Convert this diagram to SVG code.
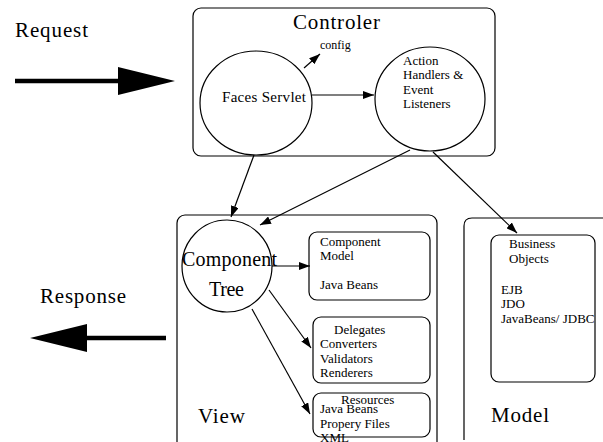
<svg xmlns="http://www.w3.org/2000/svg" width="603" height="442" viewBox="0 0 603 442" font-family="'Liberation Serif', 'DejaVu Serif', serif">
<style>
text{fill:#000}
.big{font-size:21px}
.mid{font-size:15px}
.sm{font-size:13px}
.xs{font-size:12px}
.box{fill:none;stroke:#000;stroke-width:1.2}
.ln{fill:none;stroke:#000;stroke-width:1.2}
</style>
<defs>
<marker id="ah" markerUnits="userSpaceOnUse" markerWidth="12" markerHeight="8" refX="11" refY="4" orient="auto">
<path d="M0,0 L11,4 L0,8 Z" fill="#000"/>
</marker>
</defs>
<rect width="603" height="442" fill="#fff"/>

<g id="request">
<text class="big" x="15" y="37" textLength="73">Request</text>
<line x1="15" y1="81" x2="120" y2="81" stroke="#000" stroke-width="4.5"/>
<polygon points="118,67 175,81 118,95" fill="#000"/>
</g>

<g id="response">
<text class="big" x="40" y="303" textLength="86">Response</text>
<line x1="166" y1="338" x2="85" y2="338" stroke="#000" stroke-width="4.5"/>
<polygon points="87,324 30,338 87,352" fill="#000"/>
</g>

<g id="controler">
<rect class="box" x="193" y="8" width="302" height="148" rx="8"/>
<text class="big" x="293" y="29" textLength="87">Controler</text>
</g>

<g id="faces-servlet">
<ellipse class="box" cx="256" cy="103" rx="56" ry="52"/>
<text class="mid" x="222" y="102" textLength="84">Faces Servlet</text>
</g>

<g id="config">
<text class="xs" x="320" y="49">config</text>
</g>

<g id="action-handlers">
<ellipse class="box" cx="430" cy="99" rx="55" ry="52"/>
<text class="sm" x="403" y="65">Action</text>
<text class="sm" x="403" y="79">Handlers &amp;</text>
<text class="sm" x="403" y="94">Event</text>
<text class="sm" x="403" y="108">Listeners</text>
</g>

<g id="view">
<rect class="box" x="177" y="215" width="260" height="240" rx="8"/>
<text class="big" x="198" y="423" textLength="47">View</text>
</g>

<g id="component-tree">
<ellipse class="box" cx="227" cy="266" rx="45" ry="46"/>
<text x="182" y="266" font-size="20" textLength="95">Component</text>
<text x="209" y="296" font-size="20" textLength="35">Tree</text>
</g>

<g id="component-model">
<rect class="box" x="309" y="232" width="121" height="68" rx="8"/>
<text class="sm" x="320" y="246">Component</text>
<text class="sm" x="320" y="260">Model</text>
<text class="sm" x="320" y="289">Java Beans</text>
</g>

<g id="delegates">
<rect class="box" x="313" y="317" width="117" height="66" rx="8"/>
<text class="sm" x="334" y="334">Delegates</text>
<text class="sm" x="320" y="348">Converters</text>
<text class="sm" x="320" y="363">Validators</text>
<text class="sm" x="320" y="377">Renderers</text>
</g>

<g id="resources">
<rect class="box" x="313" y="393" width="117" height="44" rx="8"/>
<text class="sm" x="341" y="404">Resources</text>
<text class="sm" x="320" y="413">Java Beans</text>
<text class="sm" x="320" y="428">Propery Files</text>
<text class="sm" x="320" y="442">XML</text>
</g>

<g id="model">
<path class="box" d="M620,218 L472,218 Q464,218 464,226 L464,440"/>
<text class="big" x="491" y="422" textLength="58">Model</text>
</g>

<g id="business-objects">
<rect class="box" x="491" y="235" width="104" height="147" rx="8"/>
<text class="sm" x="509" y="248">Business</text>
<text class="sm" x="509" y="263">Objects</text>
<text class="sm" x="501" y="294">EJB</text>
<text class="sm" x="501" y="308">JDO</text>
<text class="sm" x="501" y="323">JavaBeans/ JDBC</text>
</g>

<g id="connectors">
<line class="ln" x1="304" y1="68" x2="320" y2="54" marker-end="url(#ah)"/>
<line class="ln" x1="312" y1="95" x2="374" y2="95" marker-end="url(#ah)"/>
<line class="ln" x1="254" y1="155" x2="231" y2="217" marker-end="url(#ah)"/>
<line class="ln" x1="410" y1="150" x2="260" y2="225" marker-end="url(#ah)"/>
<line class="ln" x1="433" y1="152" x2="517" y2="233" marker-end="url(#ah)"/>
<line class="ln" x1="272" y1="266" x2="310" y2="266" marker-end="url(#ah)"/>
<line class="ln" x1="269" y1="290" x2="311" y2="348" marker-end="url(#ah)"/>
<line class="ln" x1="252" y1="309" x2="310" y2="414" marker-end="url(#ah)"/>
</g>
</svg>
